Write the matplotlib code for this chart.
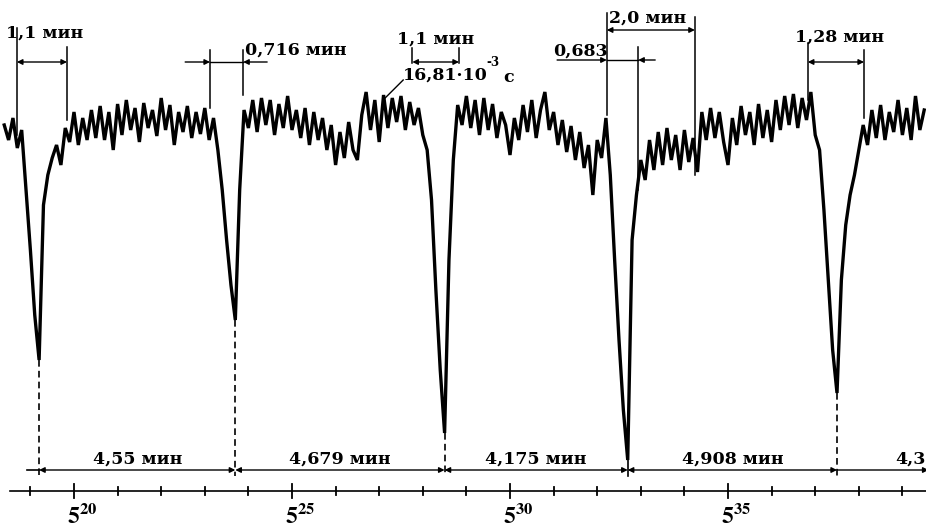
import numpy as np
import matplotlib
matplotlib.use('Agg')
import matplotlib.pyplot as plt

# recorder trace: one sample every 6 s (0.1 min), time in minutes after 5 h
t_start = 18.4
t_step = 0.1
# pen deflection, arbitrary units (time axis line = 0)
trace = [
    366, 351, 373, 343, 361, 301, 241, 176, 131, 286,
    316, 333, 346, 326, 363, 349, 379, 346, 373, 351,
    381, 353, 385, 351, 379, 341, 387, 356, 391, 361,
    383, 349, 388, 363, 381, 355, 393, 361, 386, 346,
    379, 359, 385, 353, 379, 357, 383, 351, 373, 341,
    301, 251, 206, 171, 301, 381, 363, 391, 359, 393,
    366, 391, 356, 387, 363, 395, 361, 381, 353, 383,
    346, 379, 351, 373, 341, 366, 326, 359, 333, 369,
    341, 331, 376, 399, 361, 391, 349, 396, 363, 393,
    369, 395, 361, 389, 366, 383, 356, 341, 291, 201,
    121, 58, 231, 331, 386, 366, 395, 363, 391, 356,
    393, 361, 387, 353, 379, 366, 336, 373, 351, 386,
    359, 391, 353, 381, 399, 361, 379, 346, 371, 339,
    365, 331, 359, 323, 346, 296, 351, 333, 373, 316,
    231, 151, 81, 31, 251, 296, 331, 311, 351, 321,
    359, 326, 363, 331, 356, 321, 361, 329, 353, 319,
    379, 351, 383, 353, 379, 349, 326, 373, 346, 385,
    356, 379, 346, 387, 353, 381, 349, 391, 361, 395,
    366, 397, 363, 393, 371, 399, 356, 341, 281, 211,
    141, 98, 211, 266, 296, 316, 341, 366, 346, 381,
    353, 386, 351, 379, 359, 391, 356, 383, 351, 395,
    361, 381,
]

# dip minima (min after 5 h) and the periods between them
dip_t = [19.2, 23.7, 28.5, 32.7, 37.5]
dip_level = [131, 171, 58, 31, 98]
dip_dashed = [True, True, True, False, True]
period_labels = ['4,55 мин', '4,679 мин', '4,175 мин', '4,908 мин']
last_label = '4,3'

minute_ticks = list(range(19, 40))
major_ticks = [20, 25, 30, 35]

# width marks at the top: (left t, right t, level)
spans = [
    (18.69, 19.84, 429),
    (27.76, 28.83, 429),
    (32.22, 34.24, 461),
    (36.83, 38.12, 429),
]
# marks with arrows pointing inwards: (outer left, left, right, outer right, level)
inner_spans = [
    (22.55, 23.12, 23.88, 24.43, 429),
    (31.08, 32.22, 32.94, 33.33, 431),
]
# vertical bracket lines: (t, top, bottom)
brackets = [
    (18.69, 463, 356), (19.84, 444, 371),
    (23.12, 441, 383), (23.88, 441, 396),
    (27.76, 443, 428), (28.83, 443, 428),
    (32.22, 478, 376), (32.94, 444, 301),
    (34.24, 474, 316),
    (36.83, 448, 391), (38.12, 441, 373),
]
# labels: (text, left t, level)
labels = [
    ('1,1 мин', 18.43, 458),
    ('0,716 мин', 23.92, 441),
    ('1,1 мин', 27.41, 452),
    ('16,81·10', 27.55, 416),
    ('с', 29.84, 413),
    ('0,683', 30.99, 440),
    ('2,0 мин', 32.27, 473),
    ('1,28 мин', 36.54, 454),
]

font = dict(family='DejaVu Serif', fontweight='bold', fontsize=12.5)
plt.rcParams['mathtext.fontset'] = 'stix'

fig = plt.figure(figsize=(9.26, 5.30), dpi=100)
ax = fig.add_axes([0, 0, 1, 1])
ax.set_xlim(18.303, 39.541)
ax.set_ylim(-39, 491)
ax.axis('off')

t = t_start + t_step * np.arange(len(trace))
ax.plot(t, trace, color='black', lw=2.4, solid_joinstyle='miter')

arr = dict(color='black', lw=1.0, shrinkA=0, shrinkB=0, mutation_scale=8)

# dashed lines from the dip minima down to the period line
for x, lv, dashed in zip(dip_t, dip_level, dip_dashed):
    ls = (0, (4, 2.5)) if dashed else '-'
    ax.plot([x, x], [lv, 15], color='black', lw=1.2, ls=ls)

# periods between dips
period_y = 21
ax.plot([18.92, dip_t[0]], [period_y, period_y], color='black', lw=1.2)
for i, lab in enumerate(period_labels):
    ax.annotate('', xy=(dip_t[i], period_y), xytext=(dip_t[i + 1], period_y),
                arrowprops=dict(arrowstyle='<|-|>', **arr))
    ax.text((dip_t[i] + dip_t[i + 1]) / 2, 32, lab, ha='center', va='center', **font)
ax.annotate('', xy=(dip_t[-1], period_y), xytext=(39.6, period_y),
            arrowprops=dict(arrowstyle='<|-', **arr))
ax.text(38.84, 32, last_label, ha='left', va='center', **font)

# width marks
for x0, x1, lv in spans:
    ax.annotate('', xy=(x0, lv), xytext=(x1, lv), arrowprops=dict(arrowstyle='<|-|>', **arr))
for o0, x0, x1, o1, lv in inner_spans:
    ax.annotate('', xy=(x0, lv), xytext=(o0, lv), arrowprops=dict(arrowstyle='-|>', **arr))
    ax.annotate('', xy=(x1, lv), xytext=(o1, lv), arrowprops=dict(arrowstyle='-|>', **arr))
    ax.plot([x0, x1], [lv, lv], color='black', lw=1.0)
for x, top, bot in brackets:
    ax.plot([x, x], [top, bot], color='black', lw=1.1)

for txt, x, lv in labels:
    ax.text(x, lv, txt, ha='left', va='center', **font)
ax.text(29.45, 429, '-3', ha='left', va='center', family='DejaVu Serif',
        fontweight='bold', fontsize=8.5)
ax.plot([27.55, 27.09], [411, 391], color='black', lw=1.0)

# time axis, minutes after 5 h
ax.plot([18.53, 39.541], [0, 0], color='black', lw=1.2)
for m in minute_ticks:
    h = 7 if m in major_ticks else 4
    ax.plot([m, m], [-h, h], color='black', lw=1.3)
for m in major_ticks:
    ax.text(m - 0.16, -25, r'$\mathbf{5^{%d}}$' % m, ha='left', va='center', fontsize=17)

fig.savefig('out.png', dpi=100)
